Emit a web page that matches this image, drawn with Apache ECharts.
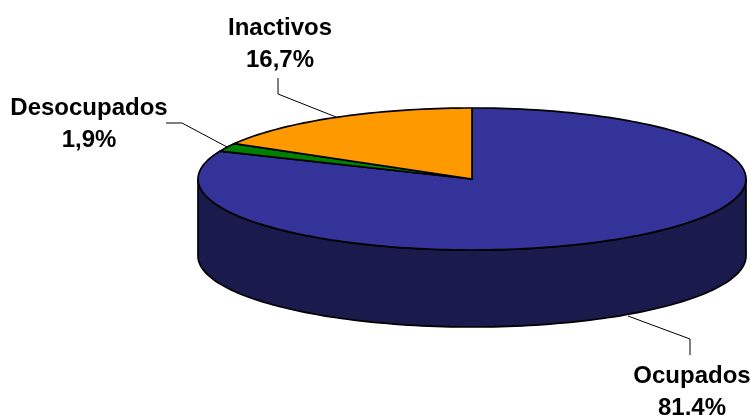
<!DOCTYPE html>
<html>
<head>
<meta charset="utf-8">
<style>
  html, body { margin: 0; padding: 0; background: #fff; overflow: hidden; }
  #chart { width: 751px; height: 415px; }
</style>
<script src="https://cdn.jsdelivr.net/npm/echarts@6/dist/echarts.min.js"></script>
</head>
<body>
<div id="chart"></div>
<script>
const categories = ["Ocupados", "Desocupados", "Inactivos"];
const shares = [81.4, 1.9, 16.7];
const shareLabels = ["81,4%", "1,9%", "16,7%"];
const topColors = ["#333399", "#008000", "#ff9900"];
const wallColors = ["#1a1a4d", "#004000", "#804d00"];

// label centre and leader line for each slice
const labelAt = [[692, 392], [89, 124], [280, 44]];
const leaders = [
  [[628, 316], [690, 339], [690, 355]],
  [[166, 123], [182, 123], [227, 147]],
  [[278, 78], [278, 94], [336, 117]]
];

const cx = 472, cy = 179, rx = 274, ry = 71, depth = 77;

// clockwise from twelve o'clock, in degrees
const point = (deg, drop) => {
  const a = deg * Math.PI / 180;
  return [cx + rx * Math.sin(a), cy - ry * Math.cos(a) + drop];
};

const arc = (from, to, drop) => {
  const pts = [];
  const steps = Math.max(2, Math.ceil(Math.abs(to - from) / 1.5));
  for (let i = 0; i <= steps; i++) {
    pts.push(point(from + (to - from) * i / steps, drop));
  }
  return pts;
};

const total = shares.reduce((a, b) => a + b, 0);
const outline = { stroke: "#000", lineWidth: 1.7, lineJoin: "round" };

function renderSlice(params, api) {
  const idx = params.dataIndex;
  let before = 0;
  for (let i = 0; i < idx; i++) before += shares[i];
  const start = before / total * 360;
  const end = (before + api.value(1)) / total * 360;
  const children = [];

  // only the part between 90 and 270 degrees faces the viewer
  const wallFrom = Math.max(start, 90), wallTo = Math.min(end, 270);
  if (wallTo > wallFrom) {
    children.push({
      type: "polygon",
      shape: { points: arc(wallFrom, wallTo, 0).concat(arc(wallTo, wallFrom, depth)) },
      style: Object.assign({ fill: wallColors[idx] }, outline)
    });
  }

  children.push({
    type: "polygon",
    shape: { points: [[cx, cy]].concat(arc(start, end, 0)) },
    style: Object.assign({ fill: topColors[idx] }, outline)
  });

  children.push({
    type: "polyline",
    shape: { points: leaders[idx] },
    style: { fill: null, stroke: "#000", lineWidth: 1 }
  });

  children.push({
    type: "text",
    x: labelAt[idx][0],
    y: labelAt[idx][1],
    style: {
      text: categories[idx] + "\n" + shareLabels[idx],
      fontFamily: "Liberation Sans",
      fontWeight: "bold",
      fontSize: 24,
      lineHeight: 32,
      fill: "#000",
      align: "center",
      verticalAlign: "middle"
    }
  });

  return { type: "group", children: children };
}

const chart = echarts.init(document.getElementById("chart"));
chart.setOption({
  animation: false,
  backgroundColor: "#fff",
  series: [{
    type: "custom",
    coordinateSystem: "none",
    silent: true,
    clip: false,
    renderItem: renderSlice,
    data: categories.map((name, i) => ({ name: name, value: [i, shares[i]] }))
  }]
});
</script>
</body>
</html>
